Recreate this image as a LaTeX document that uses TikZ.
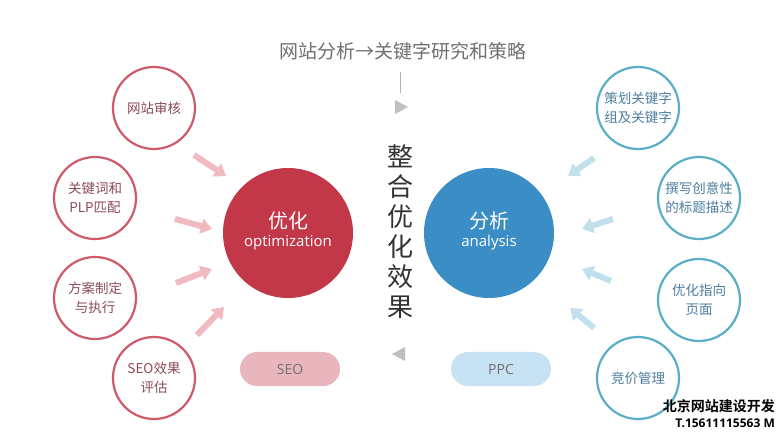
\documentclass[tikz,border=0pt]{standalone}
\usepackage{fontspec}
\setmainfont{Open Sans}
\newfontfamily\cjk{Noto Sans CJK SC}
\newfontfamily\cjkb{Noto Sans CJK SC Bold}
\usetikzlibrary{arrows.meta}
\definecolor{redbig}{HTML}{C33849}
\definecolor{redline}{HTML}{CF5A6C}
\definecolor{redtext}{HTML}{8C4C58}
\definecolor{pinkarrow}{HTML}{F1B9C0}
\definecolor{pinkpill}{HTML}{EAB6BE}
\definecolor{bluebig}{HTML}{3B8DC5}
\definecolor{blueline}{HTML}{5AAFC6}
\definecolor{bluetext}{HTML}{4D7E9E}
\definecolor{bluearrow}{HTML}{C0E0EC}
\definecolor{bluepill}{HTML}{C7E2F2}
\definecolor{graytext}{HTML}{707070}
\tikzset{
  bigcirc/.style={circle, minimum size=130pt, inner sep=0pt},
  bigcjk/.style={text=white, inner sep=0pt, font=\cjk\fontsize{20}{24}\selectfont},
  biglat/.style={text=white, inner sep=0pt, font=\fontsize{15}{18}\selectfont},
  redsmall/.style={circle, draw=redline, line width=2.2pt, minimum size=82pt, inner sep=0pt, align=center, text=redtext, font=\cjk\fontsize{13.5}{19}\selectfont},
  bluesmall/.style={circle, draw=blueline, line width=2.2pt, minimum size=82pt, inner sep=0pt, align=center, text=bluetext, font=\cjk\fontsize{13.5}{19}\selectfont},
  pinkarr/.style={draw=pinkarrow, line width=6pt, -{Triangle[length=11pt,width=15pt]}},
  bluearr/.style={draw=bluearrow, line width=6pt, -{Triangle[length=11pt,width=15pt]}},
  pill/.style={rounded corners=17pt, minimum width=100pt, minimum height=34pt, inner sep=0pt, text=graytext, font=\fontsize{14}{16}\selectfont},
  tri/.style={fill=black!25, draw=none},
}
\begin{document}
\begin{tikzpicture}[x=1pt,y=-1pt]
\useasboundingbox[fill=white] (0,0) rectangle (784,435);
% title
\node[text=graytext, font=\cjk\fontsize{19}{21}\selectfont] (title) at (403,51) {网站分析→关键字研究和策略};
\coordinate (vl1) at (400,72);
\coordinate (vl2) at (400,93);
\draw[black!30, line width=0.6pt] (vl1) -- (vl2);
\fill[tri] (395,100) -- (408,107) -- (395,114) -- cycle;
% big circles
\node[bigcirc, fill=redbig] (opt) at (288,233) {};
\node[bigcjk] (optc) at (288,221) {优化};
\node[biglat] (optl) at (288,243) {optimization};
\node[bigcirc, fill=bluebig] (ana) at (489,233) {};
\node[bigcjk] (anac) at (489,221) {分析};
\node[biglat] (anal) at (489,243) {analysis};
% center vertical text
\node[text=black!80, font=\cjk\fontsize{26}{30}\selectfont, align=center] (mid) at (400,232) {整\\合\\优\\化\\效\\果};
% left small circles
\node[redsmall] (l1) at (154,108) {网站审核};
\node[redsmall] (l2) at (95,198) {关键词和\\PLP匹配};
\node[redsmall] (l3) at (95,298) {方案制定\\与执行};
\node[redsmall] (l4) at (154,378) {SEO效果\\评估};
% right small circles
\node[bluesmall] (r1) at (638,108) {策划关键字\\组及关键字};
\node[bluesmall] (r2) at (699,198) {撰写创意性\\的标题描述};
\node[bluesmall] (r3) at (699,300) {优化指向\\页面};
\node[bluesmall] (r4) at (638,378) {竞价管理};
% left arrows
\coordinate (la1s) at (194,155); \coordinate (la1e) at (226,176);
\coordinate (la2s) at (175,219); \coordinate (la2e) at (212,229);
\coordinate (la3s) at (176,283); \coordinate (la3e) at (212,269);
\coordinate (la4s) at (197,335); \coordinate (la4e) at (224,307);
\draw[pinkarr] (la1s) -- (la1e);
\draw[pinkarr] (la2s) -- (la2e);
\draw[pinkarr] (la3s) -- (la3e);
\draw[pinkarr] (la4s) -- (la4e);
% right arrows
\coordinate (ra1s) at (594,158); \coordinate (ra1e) at (568,176);
\coordinate (ra2s) at (613,219); \coordinate (ra2e) at (582,229);
\coordinate (ra3s) at (611,281); \coordinate (ra3e) at (582,269);
\coordinate (ra4s) at (594,328); \coordinate (ra4e) at (570,308);
\draw[bluearr] (ra1s) -- (ra1e);
\draw[bluearr] (ra2s) -- (ra2e);
\draw[bluearr] (ra3s) -- (ra3e);
\draw[bluearr] (ra4s) -- (ra4e);
% pills
\node[pill, fill=pinkpill] (seo) at (290,369) {SEO};
\node[pill, fill=bluepill] (ppc) at (501,369) {PPC};
\fill[tri] (405,347) -- (392,354) -- (405,361) -- cycle;
% watermark
\node[anchor=east, font=\cjkb\fontsize{14}{15}\selectfont, inner sep=0pt] (wm1) at (775,406) {北京网站建设开发};
\node[anchor=east, font=\bfseries\fontsize{12}{13}\selectfont, inner sep=0pt] (wm2) at (775,423) {T.15611115563 M};
\end{tikzpicture}
\end{document}
